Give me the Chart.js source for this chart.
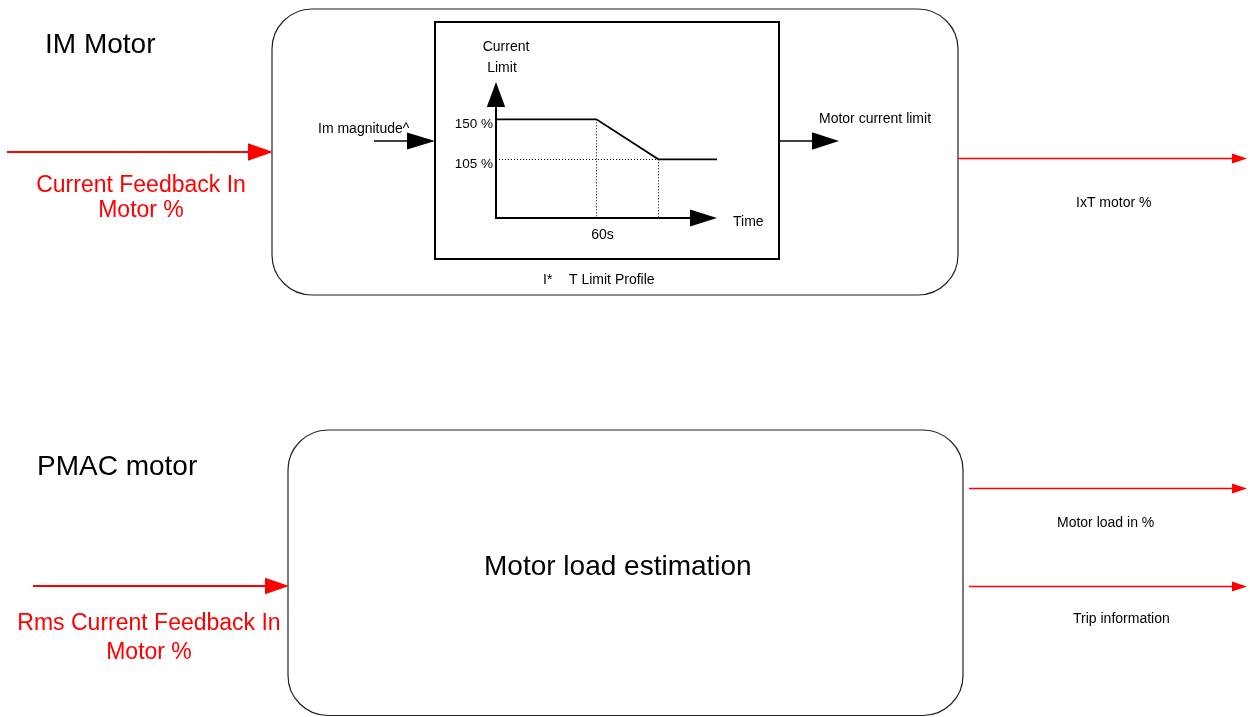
<!DOCTYPE html>
<html>
<head>
<meta charset="utf-8">
<script src="https://cdn.jsdelivr.net/npm/chart.js@4/dist/chart.umd.min.js"></script>
<style>
  html, body { margin: 0; padding: 0; background: #ffffff; }
  #wrap { width: 1250px; height: 717px; position: relative; }
</style>
</head>
<body>
<div id="wrap"><canvas id="c" width="1250" height="717"></canvas></div>
<script>
// ---- data: I*T current limit profile ----
const timeSeconds = [0, 60, 97, 132];
const currentLimitPct = [150, 150, 105, 105];
const yTickValues = [150, 105];
const yTickLabels = ['150 %', '105 %'];
const xTickValues = [60];
const xTickLabels = ['60s'];
const axisRange = { xMin: 0, xMax: 132, yMin: 39, yMax: 192 };

const FONT = "'Liberation Sans', Arial, sans-serif";
const RED = '#ff0000';

function txt(ctx, s, x, y, size, color, align) {
  ctx.save();
  ctx.font = size + 'px ' + FONT;
  ctx.fillStyle = color || '#000';
  ctx.textAlign = align || 'left';
  ctx.textBaseline = 'alphabetic';
  ctx.fillText(s, x, y);
  ctx.restore();
}
function hArrow(ctx, x1, y, xBase, xTip, half, color, lw) {
  ctx.save();
  ctx.strokeStyle = color; ctx.fillStyle = color; ctx.lineWidth = lw;
  ctx.beginPath(); ctx.moveTo(x1, y); ctx.lineTo(xBase, y); ctx.stroke();
  ctx.beginPath(); ctx.moveTo(xBase, y - half); ctx.lineTo(xTip, y); ctx.lineTo(xBase, y + half); ctx.closePath(); ctx.fill();
  ctx.restore();
}
function roundBox(ctx, x, y, w, h, r, color, lw) {
  ctx.save();
  ctx.strokeStyle = color; ctx.lineWidth = lw;
  ctx.beginPath();
  ctx.moveTo(x + r, y);
  ctx.arcTo(x + w, y, x + w, y + h, r);
  ctx.arcTo(x + w, y + h, x, y + h, r);
  ctx.arcTo(x, y + h, x, y, r);
  ctx.arcTo(x, y, x + w, y, r);
  ctx.closePath();
  ctx.stroke();
  ctx.restore();
}

const diagramPlugin = {
  id: 'diagram',
  beforeDatasetsDraw(chart) {
    const ctx = chart.ctx;
    const xs = chart.scales.x, ys = chart.scales.y;
    const x0 = xs.getPixelForValue(axisRange.xMin);
    const xEnd = xs.getPixelForValue(axisRange.xMax);
    const y0 = ys.getPixelForValue(axisRange.yMin);
    const yTop = ys.getPixelForValue(axisRange.yMax);

    // outer rounded blocks
    roundBox(ctx, 272, 9, 686, 286, 40, '#222', 1.2);
    roundBox(ctx, 288, 430, 675, 285.5, 40, '#222', 1.2);

    // inner profile box
    ctx.save(); ctx.strokeStyle = '#000'; ctx.lineWidth = 2;
    ctx.strokeRect(435, 22, 344, 237); ctx.restore();

    // titles
    txt(ctx, 'IM Motor', 45, 53, 28, '#000');
    txt(ctx, 'PMAC motor', 37, 475, 28, '#000');
    txt(ctx, 'Motor load estimation', 484, 575, 28, '#000');

    // red input arrows and labels
    hArrow(ctx, 7, 152, 248, 273, 8.7, RED, 2);
    txt(ctx, 'Current Feedback In', 141, 192, 23, RED, 'center');
    txt(ctx, 'Motor %', 141, 217, 23, RED, 'center');
    hArrow(ctx, 33, 586, 265, 289, 8.3, RED, 2);
    txt(ctx, 'Rms Current Feedback In', 149, 630, 23, RED, 'center');
    txt(ctx, 'Motor %', 149, 659, 23, RED, 'center');

    // red output arrows and labels
    hArrow(ctx, 958, 158.5, 1232, 1247, 5, RED, 1.5);
    txt(ctx, 'IxT motor %', 1076, 206.5, 14, '#000');
    hArrow(ctx, 969, 488.5, 1232, 1247, 5, RED, 1.5);
    txt(ctx, 'Motor load in %', 1057, 527, 14, '#000');
    hArrow(ctx, 969, 586.5, 1232, 1247, 5, RED, 1.5);
    txt(ctx, 'Trip information', 1073, 623, 14, '#000');

    // black in/out arrows of the profile box
    hArrow(ctx, 374, 141, 407, 435, 8.5, '#000', 1.6);
    txt(ctx, 'Im magnitude^', 318, 133, 14, '#000');
    hArrow(ctx, 779, 141, 812, 839, 8.8, '#000', 1.6);
    txt(ctx, 'Motor current limit', 819, 123, 14, '#000');
    txt(ctx, 'I*', 543, 284, 14, '#000');
    txt(ctx, 'T Limit Profile', 569, 284, 14, '#000');

    // guide lines (dotted)
    const xRampStart = xs.getPixelForValue(timeSeconds[1]);
    const xRampEnd = xs.getPixelForValue(timeSeconds[2]);
    const yHigh = ys.getPixelForValue(currentLimitPct[1]);
    const yLow = ys.getPixelForValue(currentLimitPct[2]);
    ctx.save();
    ctx.strokeStyle = '#000'; ctx.lineWidth = 1; ctx.setLineDash([1, 2]);
    ctx.beginPath();
    ctx.moveTo(x0, Math.round(yLow) + 0.5); ctx.lineTo(xRampEnd, Math.round(yLow) + 0.5);
    ctx.moveTo(Math.round(xRampStart) + 0.5, yHigh); ctx.lineTo(Math.round(xRampStart) + 0.5, y0);
    ctx.moveTo(Math.round(xRampEnd) + 0.5, yLow); ctx.lineTo(Math.round(xRampEnd) + 0.5, y0);
    ctx.stroke();
    ctx.restore();

    // axes with arrowheads
    ctx.save();
    ctx.strokeStyle = '#000'; ctx.fillStyle = '#000'; ctx.lineWidth = 2;
    ctx.beginPath(); ctx.moveTo(x0, y0); ctx.lineTo(x0, yTop + 25); ctx.stroke();
    ctx.beginPath(); ctx.moveTo(x0 - 9.2, yTop + 25); ctx.lineTo(x0, yTop); ctx.lineTo(x0 + 9.2, yTop + 25); ctx.closePath(); ctx.fill();
    ctx.beginPath(); ctx.moveTo(x0 - 1, y0); ctx.lineTo(xEnd - 27, y0); ctx.stroke();
    ctx.beginPath(); ctx.moveTo(xEnd - 27, y0 - 8.5); ctx.lineTo(xEnd, y0); ctx.lineTo(xEnd - 27, y0 + 8.5); ctx.closePath(); ctx.fill();
    ctx.restore();

    // axis titles and tick labels
    txt(ctx, 'Current', x0 + 10, 51, 14, '#000', 'center');
    txt(ctx, 'Limit', x0 + 6, 72, 14, '#000', 'center');
    txt(ctx, 'Time', xEnd + 16, y0 + 8, 14, '#000');
    yTickValues.forEach((v, i) => {
      txt(ctx, yTickLabels[i], x0 - 3, ys.getPixelForValue(v) + 8.5, 13.5, '#000', 'right');
    });
    xTickValues.forEach((v, i) => {
      txt(ctx, xTickLabels[i], xs.getPixelForValue(v) + 6, y0 + 21, 14, '#000', 'center');
    });
  }
};

new Chart(document.getElementById('c'), {
  type: 'line',
  data: {
    datasets: [{
      label: 'Current limit',
      data: timeSeconds.map((t, i) => ({ x: t, y: currentLimitPct[i] })),
      borderColor: '#000',
      borderWidth: 1.7,
      pointRadius: 0,
      tension: 0,
      fill: false,
      clip: false
    }]
  },
  options: {
    responsive: false,
    devicePixelRatio: 1,
    animation: false,
    layout: { padding: { left: 496, right: 533, top: 82, bottom: 499 } },
    plugins: { legend: { display: false }, tooltip: { enabled: false }, title: { display: false } },
    scales: {
      x: { type: 'linear', min: axisRange.xMin, max: axisRange.xMax, display: false },
      y: { type: 'linear', min: axisRange.yMin, max: axisRange.yMax, display: false }
    }
  },
  plugins: [diagramPlugin]
});
</script>
</body>
</html>
